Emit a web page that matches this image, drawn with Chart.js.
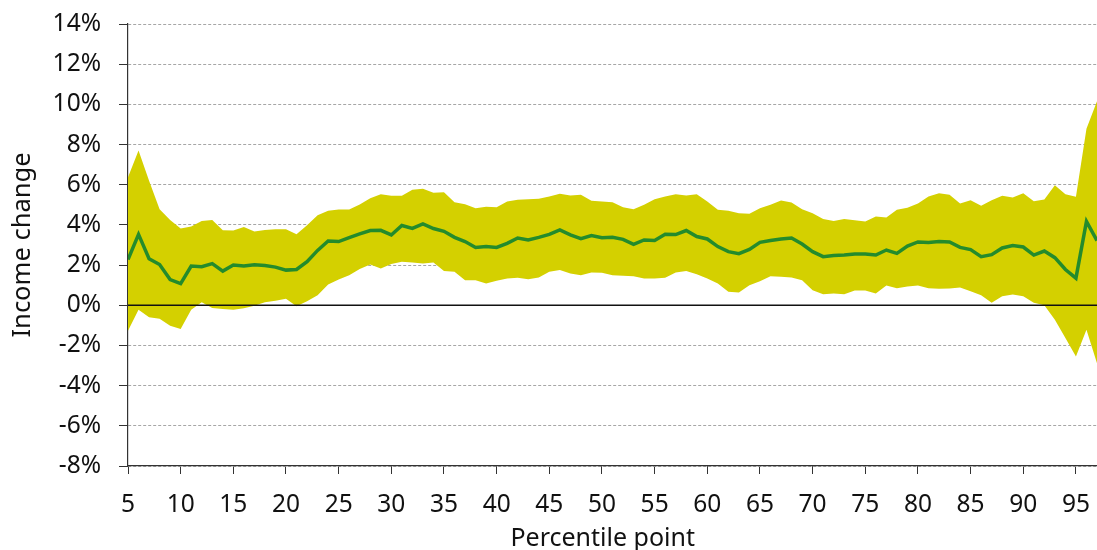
<!DOCTYPE html>
<html>
<head>
<meta charset="utf-8">
<script src="https://cdn.jsdelivr.net/npm/chart.js@4/dist/chart.umd.min.js"></script>
<style>
html,body{margin:0;padding:0;background:#fff;}
#wrap{width:1097px;height:550px;position:relative;}
</style>
</head>
<body>
<div id="wrap"><canvas id="c" width="1097" height="550"></canvas></div>
<script>
const percentiles = [5,6,7,8,9,10,11,12,13,14,15,16,17,18,19,20,21,22,23,24,25,26,27,28,29,30,31,32,33,34,35,36,37,38,39,40,41,42,43,44,45,46,47,48,49,50,51,52,53,54,55,56,57,58,59,60,61,62,63,64,65,66,67,68,69,70,71,72,73,74,75,76,77,78,79,80,81,82,83,84,85,86,87,88,89,90,91,92,93,94,95,96,97];
const meanChange = [2.28,3.53,2.32,2.03,1.28,1.08,1.95,1.92,2.07,1.7,2.0,1.95,2.02,1.98,1.9,1.75,1.78,2.17,2.73,3.2,3.17,3.37,3.55,3.72,3.73,3.5,3.97,3.83,4.05,3.82,3.68,3.38,3.17,2.88,2.93,2.88,3.08,3.35,3.25,3.38,3.53,3.75,3.5,3.32,3.47,3.36,3.38,3.28,3.03,3.25,3.22,3.53,3.52,3.72,3.42,3.3,2.92,2.67,2.57,2.78,3.13,3.22,3.3,3.35,3.05,2.67,2.42,2.48,2.5,2.55,2.55,2.5,2.75,2.58,2.95,3.15,3.13,3.18,3.15,2.88,2.77,2.42,2.52,2.85,2.97,2.9,2.5,2.7,2.37,1.78,1.35,4.17,3.22];
const upperBound = [6.37,7.7,6.2,4.78,4.25,3.82,3.92,4.2,4.25,3.73,3.72,3.9,3.67,3.75,3.78,3.78,3.53,3.98,4.48,4.7,4.77,4.77,5.02,5.33,5.53,5.45,5.45,5.75,5.8,5.6,5.62,5.13,5.03,4.83,4.9,4.88,5.17,5.25,5.28,5.3,5.42,5.55,5.47,5.5,5.2,5.17,5.13,4.88,4.78,5.0,5.28,5.42,5.53,5.47,5.53,5.17,4.75,4.7,4.58,4.55,4.83,5.0,5.22,5.12,4.78,4.58,4.3,4.2,4.3,4.23,4.17,4.42,4.37,4.75,4.85,5.07,5.42,5.57,5.5,5.07,5.23,4.95,5.23,5.45,5.37,5.57,5.18,5.27,5.98,5.53,5.4,8.78,10.15];
const lowerBound = [-1.27,-0.22,-0.6,-0.67,-1.02,-1.18,-0.22,0.15,-0.13,-0.18,-0.22,-0.15,-0.02,0.15,0.22,0.32,-0.05,0.2,0.5,1.03,1.28,1.5,1.8,2.03,1.83,2.05,2.17,2.13,2.08,2.13,1.7,1.67,1.25,1.25,1.08,1.22,1.33,1.37,1.3,1.38,1.67,1.75,1.58,1.5,1.63,1.62,1.5,1.47,1.45,1.33,1.33,1.37,1.63,1.7,1.55,1.33,1.08,0.67,0.63,1.0,1.2,1.45,1.42,1.38,1.25,0.75,0.55,0.58,0.55,0.73,0.73,0.58,0.98,0.85,0.93,0.98,0.85,0.82,0.83,0.88,0.7,0.5,0.12,0.45,0.53,0.45,0.12,0.0,-0.72,-1.63,-2.55,-1.22,-2.88];
const xTickValues = [5,10,15,20,25,30,35,40,45,50,55,60,65,70,75,80,85,90,95];
const yTickValues = [-8,-6,-4,-2,0,2,4,6,8,10,12,14];

const pts = arr => percentiles.map((p,i)=>({x:p,y:arr[i]}));
const FONT = '"Noto Sans", "Open Sans", sans-serif';
const AXIS = '#333333';

const zeroLine = {
  id:'zeroLine',
  afterDatasetsDraw(chart){
    const y = chart.scales.y.getPixelForValue(0);
    const a = chart.chartArea;
    const ctx = chart.ctx;
    ctx.save();
    ctx.strokeStyle = '#111';
    ctx.lineWidth = 1.5;
    ctx.beginPath();
    ctx.moveTo(a.left, y);
    ctx.lineTo(a.right, y);
    ctx.stroke();
    ctx.restore();
  }
};

new Chart(document.getElementById('c'), {
  type:'line',
  data:{
    datasets:[
      {label:'Mean', data:pts(meanChange), borderColor:'#248b2c', borderWidth:3.5, pointRadius:0, fill:false, order:0, tension:0},
      {label:'Upper', data:pts(upperBound), borderWidth:0, borderColor:'rgba(0,0,0,0)', backgroundColor:'#d4d000', pointRadius:0, fill:'+1', order:1, tension:0},
      {label:'Lower', data:pts(lowerBound), borderWidth:0, borderColor:'rgba(0,0,0,0)', pointRadius:0, fill:false, order:2, tension:0}
    ]
  },
  options:{
    responsive:false,
    animation:false,
    events:[],
    layout:{padding:{top:24,right:0,left:0,bottom:0}},
    plugins:{legend:{display:false}, tooltip:{enabled:false}},
    scales:{
      x:{
        type:'linear', min:5, max:97,
        afterBuildTicks(s){ s.ticks = xTickValues.map(v=>({value:v})); },
        afterFit(s){ s.height = 84; s.paddingLeft = 0; s.paddingRight = 0; },
        ticks:{font:{family:FONT,size:24.5},color:'#111',padding:16,maxRotation:0,autoSkip:false},
        grid:{drawOnChartArea:false, tickLength:8, tickColor:AXIS, color:AXIS},
        border:{color:AXIS,width:1.2},
        title:{display:true,text:'Percentile point\u00a0\u00a0\u00a0',font:{family:FONT,size:25,lineHeight:1},color:'#111',padding:{top:0,bottom:-1}}
      },
      y:{
        type:'linear', min:-8, max:14,
        afterBuildTicks(s){ s.ticks = yTickValues.map(v=>({value:v})); },
        afterFit(s){ s.width = 128; s.paddingTop = 0; s.paddingBottom = 0; },
        ticks:{font:{family:FONT,size:24.5},color:'#111',padding:18,callback:v=>v+'%'},
        grid:{color:'#a6a6a6', lineWidth:1, tickLength:9, tickColor:AXIS, tickBorderDash:[]},
        border:{color:AXIS,width:1.2,dash:[3,2]},
        title:{display:true,text:'Income change',font:{family:FONT,size:25.5,lineHeight:1.2},color:'#111',padding:{top:7,bottom:0}}
      }
    }
  },
  plugins:[zeroLine]
});
</script>
</body>
</html>
